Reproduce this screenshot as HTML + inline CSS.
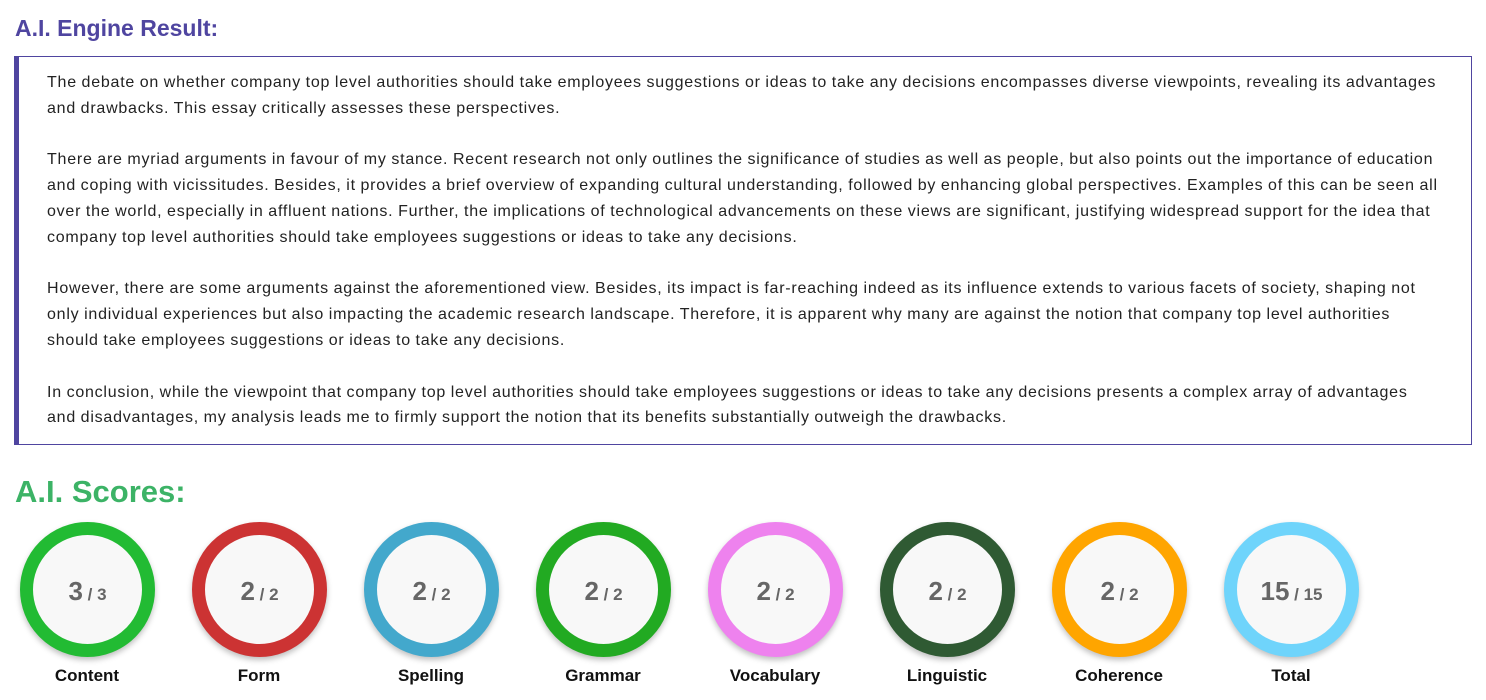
<!DOCTYPE html>
<html><head><meta charset="utf-8"><style>
body{margin:0;background:#fff;font-family:"Liberation Sans",sans-serif;width:1486px;height:700px;overflow:hidden;position:relative}
h1{position:absolute;left:15px;top:15px;margin:0;font-size:23px;font-weight:bold;color:#4f45a0}
.box{position:absolute;left:14px;top:56px;width:1452px;height:387px;border:1px solid #4f45a0;border-left:5px solid #4f45a0}
.txt{position:absolute;left:28px;top:13px;font-size:16px;letter-spacing:0.76px;word-spacing:-0.5px;line-height:25.8px;color:#222;white-space:nowrap}
.txt p{margin:0 0 25.8px 0}
h2{position:absolute;left:15px;top:474px;margin:0;font-size:31px;font-weight:bold;color:#3cb366}
.c{position:absolute;top:522px;width:109px;height:109px;border-radius:50%;border:13px solid;background:#f8f8f8;box-shadow:0 3px 6px rgba(0,0,0,.25);text-align:center;line-height:112px;color:#666;font-weight:bold;font-size:26px}
.c span{font-size:17px;font-weight:bold}
.l{position:absolute;top:666px;width:140px;text-align:center;font-size:17px;font-weight:bold;color:#111}
</style></head><body>
<h1>A.I. Engine Result:</h1>
<div class="box"><div class="txt">
<p>The debate on whether company top level authorities should take employees suggestions or ideas to take any decisions encompasses diverse viewpoints, revealing its advantages<br>and drawbacks. This essay critically assesses these perspectives.</p>
<p>There are myriad arguments in favour of my stance. Recent research not only outlines the significance of studies as well as people, but also points out the importance of education<br>and coping with vicissitudes. Besides, it provides a brief overview of expanding cultural understanding, followed by enhancing global perspectives. Examples of this can be seen all<br>over the world, especially in affluent nations. Further, the implications of technological advancements on these views are significant, justifying widespread support for the idea that<br>company top level authorities should take employees suggestions or ideas to take any decisions.</p>
<p>However, there are some arguments against the aforementioned view. Besides, its impact is far-reaching indeed as its influence extends to various facets of society, shaping not<br>only individual experiences but also impacting the academic research landscape. Therefore, it is apparent why many are against the notion that company top level authorities<br>should take employees suggestions or ideas to take any decisions.</p>
<p>In conclusion, while the viewpoint that company top level authorities should take employees suggestions or ideas to take any decisions presents a complex array of advantages<br>and disadvantages, my analysis leads me to firmly support the notion that its benefits substantially outweigh the drawbacks.</p>
</div></div>
<h2>A.I. Scores:</h2>
<div class="c" style="left:20px;border-color:#22bb33">3<span> / 3</span></div><div class="l" style="left:17px">Content</div>
<div class="c" style="left:192px;border-color:#cc3333">2<span> / 2</span></div><div class="l" style="left:189px">Form</div>
<div class="c" style="left:364px;border-color:#43a8cc">2<span> / 2</span></div><div class="l" style="left:361px">Spelling</div>
<div class="c" style="left:536px;border-color:#22aa22">2<span> / 2</span></div><div class="l" style="left:533px">Grammar</div>
<div class="c" style="left:708px;border-color:#ee82ee">2<span> / 2</span></div><div class="l" style="left:705px">Vocabulary</div>
<div class="c" style="left:880px;border-color:#2f5a33">2<span> / 2</span></div><div class="l" style="left:877px">Linguistic</div>
<div class="c" style="left:1052px;border-color:#ffa500">2<span> / 2</span></div><div class="l" style="left:1049px">Coherence</div>
<div class="c" style="left:1224px;border-color:#6fd4fb">15<span> / 15</span></div><div class="l" style="left:1221px">Total</div>
</body></html>
